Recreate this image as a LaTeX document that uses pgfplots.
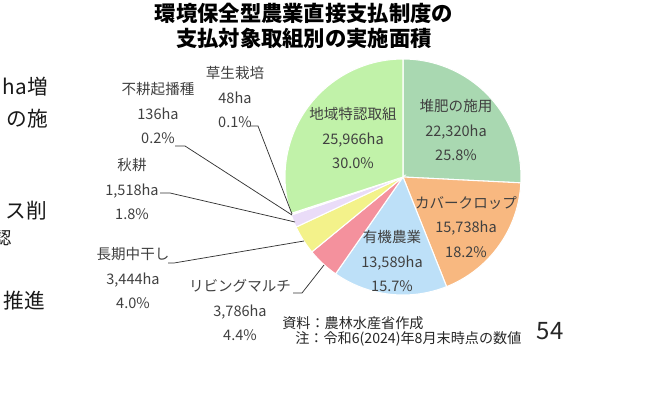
\documentclass[border=0pt]{standalone}
\usepackage{pgfplots}
\usepackage{pgfplotstable}
\pgfplotsset{compat=1.18}
\usepackage{fontspec}
\setmainfont{Noto Sans CJK JP}

\definecolor{cTaihi}{HTML}{A9D8B1}
\definecolor{cCover}{HTML}{F8B880}
\definecolor{cYuki}{HTML}{BDE0F8}
\definecolor{cLiving}{HTML}{F4919D}
\definecolor{cNakaboshi}{HTML}{F3F28A}
\definecolor{cShuko}{HTML}{EADCF8}
\definecolor{cFukouki}{HTML}{C8C8E8}
\definecolor{cSosei}{HTML}{D8C8A8}
\definecolor{cChiiki}{HTML}{C1F2A9}
\definecolor{lbltext}{HTML}{404040}

% area (ha) per measure, clockwise from 12 o'clock
\pgfplotstableread{
name      ha     col
taihi     22320  cTaihi
cover     15738  cCover
yuki      13589  cYuki
living    3786   cLiving
nakaboshi 3444   cNakaboshi
shuko     1518   cShuko
fukouki   136    cFukouki
sosei     48     cSosei
chiiki    25966  cChiiki
}\piedata

% total and slice paths (in the preamble, so no stray spaces reach the page)
\pgfplotstablegetrowsof{\piedata}\let\nrows\pgfplotsretval
\pgfmathtruncatemacro\lastrow{\nrows-1}
\def\pietotal{0}
\pgfplotsforeachungrouped \i in {0,...,\lastrow}{%
  \pgfplotstablegetelem{\i}{ha}\of\piedata
  \edef\pietotal{\fpeval{\pietotal+\pgfplotsretval}}%
}
\def\pieslices{}
\def\acc{90}
\pgfplotsforeachungrouped \i in {0,...,\lastrow}{%
  \pgfplotstablegetelem{\i}{ha}\of\piedata \let\slval\pgfplotsretval
  \pgfplotstablegetelem{\i}{col}\of\piedata \let\slcol\pgfplotsretval
  \edef\nacc{\fpeval{\acc-360*\slval/\pietotal}}%
  \xdef\pieslices{\pieslices
    \noexpand\fill[\slcol,draw=white,line width=0.8pt] (axis cs:403,177) -- ++(\acc:88.5pt)
      arc[start angle=\acc,end angle=\nacc,radius=88.5pt] -- cycle;}%
  \let\acc\nacc
}

\tikzset{
  lbl/.style={align=center, text=lbltext, inner sep=0pt,
    font=\fontsize{10.9pt}{18.2pt}\selectfont},
  lead/.style={draw=black!80, line width=0.55pt},
  slide/.style={anchor=east, inner sep=0pt, overlay, text=black!90,
    font=\fontsize{15.5pt}{17pt}\selectfont},
}

\begin{document}
\begin{tikzpicture}
\begin{axis}[
    at={(0,0)}, anchor=south west,
    scale only axis, width=485.25pt, height=303pt,
    xmin=0, xmax=647, ymin=0, ymax=404, y dir=reverse,
    hide axis, clip=false,
]
% page frame = whole reference image
\path (axis cs:0,0) rectangle (axis cs:647,404);
\pieslices

% title
\node[align=center, inner sep=0pt, font=\fontsize{16pt}{18.8pt}\selectfont\bfseries]
  at (axis cs:304,25.5) {環境保全型農業直接支払制度の\\支払対象取組別の実施面積};

% slice labels
\node[lbl] at (axis cs:456,130) {堆肥の施用\\22,320ha\\25.8\%};
\node[lbl] at (axis cs:466,227) {カバークロップ\\15,738ha\\18.2\%};
\node[lbl] at (axis cs:392,261) {有機農業\\13,589ha\\15.7\%};
\node[lbl] at (axis cs:353,138) {地域特認取組\\25,966ha\\30.0\%};
\node[lbl] at (axis cs:240,310) {リビングマルチ\\3,786ha\\4.4\%};
\node[lbl] at (axis cs:133,278) {長期中干し\\3,444ha\\4.0\%};
\node[lbl] at (axis cs:132,189) {秋耕\\1,518ha\\1.8\%};
\node[lbl] at (axis cs:158,113) {不耕起播種\\136ha\\0.2\%};
\node[lbl] at (axis cs:235,97) {草生栽培\\48ha\\0.1\%};

% leader lines
\draw[lead] (axis cs:250,126) -- (axis cs:258,126) -- (axis cs:292,214);
\draw[lead] (axis cs:175,146) -- (axis cs:185,146) -- (axis cs:292,215);
\draw[lead] (axis cs:160,193) -- (axis cs:170,193) -- (axis cs:295,222);
\draw[lead] (axis cs:168,263) -- (axis cs:174,263) -- (axis cs:304,241);
\draw[lead] (axis cs:293,293) -- (axis cs:302,293) -- (axis cs:324,265);

% source notes and page number
\node[anchor=west, inner sep=0pt, text=black!85, font=\fontsize{10.6pt}{12pt}\selectfont]
  at (axis cs:282,323) {資料：農林水産省作成};
\node[anchor=west, inner sep=0pt, text=black!85, font=\fontsize{10.6pt}{12pt}\selectfont]
  at (axis cs:295,339) {注：令和6(2024)年8月末時点の数値};
\node[inner sep=0pt, text=black!85, font=\fontsize{18pt}{20pt}\selectfont]
  at (axis cs:550,331) {54};

% slide text cut off at the left edge
\node[slide] at (axis cs:48,87) {ha増};
\node[slide] at (axis cs:48,119) {の施};
\node[slide] at (axis cs:47,211) {ス削};
\node[slide, font=\fontsize{13pt}{15pt}\selectfont] at (axis cs:12,238) {認};
\node[slide] at (axis cs:45,301) {推進};
\end{axis}
\end{tikzpicture}
\end{document}
